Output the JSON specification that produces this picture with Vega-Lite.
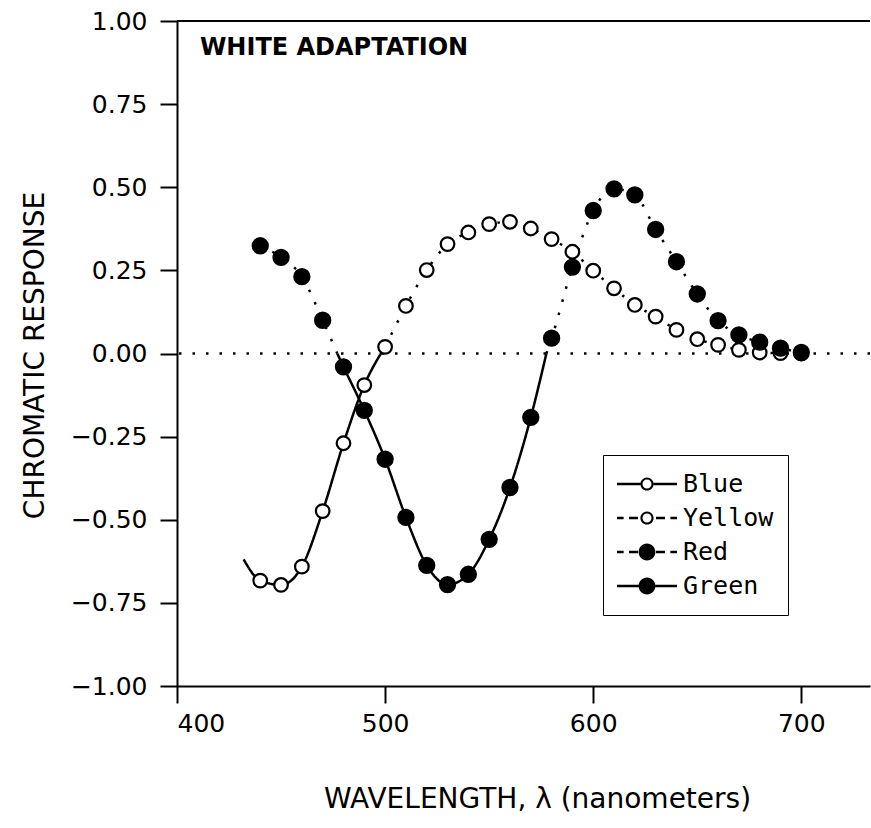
{
  "$schema": "https://vega.github.io/schema/vega-lite/v6.json",
  "width": 693,
  "height": 665,
  "autosize": "none",
  "padding": {"left": 177, "top": 21, "right": 1, "bottom": 142},
  "background": "white",
  "config": {
    "view": {"stroke": null},
    "axis": {
      "grid": false,
      "domainColor": "black",
      "domainWidth": 2,
      "tickColor": "black",
      "tickWidth": 2,
      "tickSize": 17,
      "labelFont": "DejaVu Sans",
      "labelFontSize": 25,
      "labelColor": "black",
      "titleFont": "DejaVu Sans",
      "titleFontSize": 28,
      "titleFontWeight": "normal",
      "titleColor": "black"
    },
    "legend": {
      "title": null,
      "orient": "none",
      "legendX": 426,
      "legendY": 434,
      "strokeColor": "black",
      "fillColor": "white",
      "padding": 14,
      "clipHeight": 30,
      "rowPadding": 4,
      "symbolSize": 3600,
      "symbolFillColor": "black",
      "symbolStrokeWidth": 0,
      "symbolOpacity": 1,
      "labelFont": "DejaVu Sans Mono",
      "labelFontSize": 25,
      "labelColor": "black",
      "labelOffset": 6
    }
  },
  "datasets": {
    "points": [
      {"series": "Blue", "nm": 440, "v": -0.683},
      {"series": "Blue", "nm": 450, "v": -0.696},
      {"series": "Blue", "nm": 460, "v": -0.641},
      {"series": "Blue", "nm": 470, "v": -0.474},
      {"series": "Blue", "nm": 480, "v": -0.27},
      {"series": "Blue", "nm": 490, "v": -0.095},
      {"series": "Yellow", "nm": 500, "v": 0.02},
      {"series": "Yellow", "nm": 510, "v": 0.143},
      {"series": "Yellow", "nm": 520, "v": 0.251},
      {"series": "Yellow", "nm": 530, "v": 0.329},
      {"series": "Yellow", "nm": 540, "v": 0.364},
      {"series": "Yellow", "nm": 550, "v": 0.389},
      {"series": "Yellow", "nm": 560, "v": 0.396},
      {"series": "Yellow", "nm": 570, "v": 0.376},
      {"series": "Yellow", "nm": 580, "v": 0.344},
      {"series": "Yellow", "nm": 590, "v": 0.306},
      {"series": "Yellow", "nm": 600, "v": 0.249},
      {"series": "Yellow", "nm": 610, "v": 0.196},
      {"series": "Yellow", "nm": 620, "v": 0.146},
      {"series": "Yellow", "nm": 630, "v": 0.111},
      {"series": "Yellow", "nm": 640, "v": 0.071},
      {"series": "Yellow", "nm": 650, "v": 0.043},
      {"series": "Yellow", "nm": 660, "v": 0.026},
      {"series": "Yellow", "nm": 670, "v": 0.011},
      {"series": "Yellow", "nm": 680, "v": 0.003},
      {"series": "Yellow", "nm": 690, "v": 0.001},
      {"series": "Yellow", "nm": 700, "v": 0.0},
      {"series": "Red", "nm": 440, "v": 0.324},
      {"series": "Red", "nm": 450, "v": 0.289},
      {"series": "Red", "nm": 460, "v": 0.231},
      {"series": "Red", "nm": 470, "v": 0.1},
      {"series": "Red", "nm": 580, "v": 0.046},
      {"series": "Red", "nm": 590, "v": 0.26},
      {"series": "Red", "nm": 600, "v": 0.43},
      {"series": "Red", "nm": 610, "v": 0.495},
      {"series": "Red", "nm": 620, "v": 0.477},
      {"series": "Red", "nm": 630, "v": 0.373},
      {"series": "Red", "nm": 640, "v": 0.276},
      {"series": "Red", "nm": 650, "v": 0.179},
      {"series": "Red", "nm": 660, "v": 0.099},
      {"series": "Red", "nm": 670, "v": 0.056},
      {"series": "Red", "nm": 680, "v": 0.034},
      {"series": "Red", "nm": 690, "v": 0.016},
      {"series": "Red", "nm": 700, "v": 0.003},
      {"series": "Green", "nm": 480, "v": -0.04},
      {"series": "Green", "nm": 490, "v": -0.171},
      {"series": "Green", "nm": 500, "v": -0.318},
      {"series": "Green", "nm": 510, "v": -0.493},
      {"series": "Green", "nm": 520, "v": -0.637},
      {"series": "Green", "nm": 530, "v": -0.695},
      {"series": "Green", "nm": 540, "v": -0.664},
      {"series": "Green", "nm": 550, "v": -0.559},
      {"series": "Green", "nm": 560, "v": -0.403},
      {"series": "Green", "nm": 570, "v": -0.192}
    ],
    "curves": [
      {"series": "Blue", "seg": "b", "nm": 432, "v": -0.619},
      {"series": "Blue", "seg": "b", "nm": 440, "v": -0.683},
      {"series": "Blue", "seg": "b", "nm": 450, "v": -0.696},
      {"series": "Blue", "seg": "b", "nm": 460, "v": -0.641},
      {"series": "Blue", "seg": "b", "nm": 470, "v": -0.474},
      {"series": "Blue", "seg": "b", "nm": 480, "v": -0.27},
      {"series": "Blue", "seg": "b", "nm": 490, "v": -0.095},
      {"series": "Blue", "seg": "b", "nm": 500, "v": 0.02},
      {"series": "Green", "seg": "g", "nm": 477, "v": 0.0},
      {"series": "Green", "seg": "g", "nm": 480, "v": -0.04},
      {"series": "Green", "seg": "g", "nm": 490, "v": -0.171},
      {"series": "Green", "seg": "g", "nm": 500, "v": -0.318},
      {"series": "Green", "seg": "g", "nm": 510, "v": -0.493},
      {"series": "Green", "seg": "g", "nm": 520, "v": -0.637},
      {"series": "Green", "seg": "g", "nm": 530, "v": -0.695},
      {"series": "Green", "seg": "g", "nm": 540, "v": -0.664},
      {"series": "Green", "seg": "g", "nm": 550, "v": -0.559},
      {"series": "Green", "seg": "g", "nm": 560, "v": -0.403},
      {"series": "Green", "seg": "g", "nm": 570, "v": -0.192},
      {"series": "Green", "seg": "g", "nm": 577.5, "v": 0.0},
      {"series": "Red", "seg": "r1", "nm": 440, "v": 0.324},
      {"series": "Red", "seg": "r1", "nm": 450, "v": 0.289},
      {"series": "Red", "seg": "r1", "nm": 460, "v": 0.231},
      {"series": "Red", "seg": "r1", "nm": 470, "v": 0.1},
      {"series": "Red", "seg": "r1", "nm": 477, "v": 0.0},
      {"series": "Red", "seg": "r2", "nm": 577.5, "v": 0.0},
      {"series": "Red", "seg": "r2", "nm": 580, "v": 0.046},
      {"series": "Red", "seg": "r2", "nm": 590, "v": 0.26},
      {"series": "Red", "seg": "r2", "nm": 600, "v": 0.43},
      {"series": "Red", "seg": "r2", "nm": 610, "v": 0.495},
      {"series": "Red", "seg": "r2", "nm": 620, "v": 0.477},
      {"series": "Red", "seg": "r2", "nm": 630, "v": 0.373},
      {"series": "Red", "seg": "r2", "nm": 640, "v": 0.276},
      {"series": "Red", "seg": "r2", "nm": 650, "v": 0.179},
      {"series": "Red", "seg": "r2", "nm": 660, "v": 0.099},
      {"series": "Red", "seg": "r2", "nm": 670, "v": 0.056},
      {"series": "Red", "seg": "r2", "nm": 680, "v": 0.034},
      {"series": "Red", "seg": "r2", "nm": 690, "v": 0.016},
      {"series": "Red", "seg": "r2", "nm": 700, "v": 0.003},
      {"series": "Yellow", "seg": "y", "nm": 500, "v": 0.02},
      {"series": "Yellow", "seg": "y", "nm": 510, "v": 0.143},
      {"series": "Yellow", "seg": "y", "nm": 520, "v": 0.251},
      {"series": "Yellow", "seg": "y", "nm": 530, "v": 0.329},
      {"series": "Yellow", "seg": "y", "nm": 540, "v": 0.364},
      {"series": "Yellow", "seg": "y", "nm": 550, "v": 0.389},
      {"series": "Yellow", "seg": "y", "nm": 560, "v": 0.396},
      {"series": "Yellow", "seg": "y", "nm": 570, "v": 0.376},
      {"series": "Yellow", "seg": "y", "nm": 580, "v": 0.344},
      {"series": "Yellow", "seg": "y", "nm": 590, "v": 0.306},
      {"series": "Yellow", "seg": "y", "nm": 600, "v": 0.249},
      {"series": "Yellow", "seg": "y", "nm": 610, "v": 0.196},
      {"series": "Yellow", "seg": "y", "nm": 620, "v": 0.146},
      {"series": "Yellow", "seg": "y", "nm": 630, "v": 0.111},
      {"series": "Yellow", "seg": "y", "nm": 640, "v": 0.071},
      {"series": "Yellow", "seg": "y", "nm": 650, "v": 0.043},
      {"series": "Yellow", "seg": "y", "nm": 660, "v": 0.026},
      {"series": "Yellow", "seg": "y", "nm": 670, "v": 0.011},
      {"series": "Yellow", "seg": "y", "nm": 680, "v": 0.003},
      {"series": "Yellow", "seg": "y", "nm": 690, "v": 0.001},
      {"series": "Yellow", "seg": "y", "nm": 700, "v": 0.0}
    ],
    "notes": [
      {"label": "WHITE ADAPTATION", "nm": 411, "v": 0.898}
    ],
    "refs": [
      {"v": 1.0, "kind": "frame"},
      {"v": 0.0, "kind": "zero"}
    ]
  },
  "layer": [
    {
      "data": {"name": "curves"},
      "mark": {"type": "line", "interpolate": "monotone", "stroke": "black", "strokeWidth": 2.5},
      "encoding": {
        "x": {
          "field": "nm",
          "type": "quantitative",
          "scale": {"domain": [400, 733], "nice": false, "zero": false},
          "axis": {
            "values": [400, 500, 600, 700],
            "format": "d",
            "labelPadding": 8,
            "title": "WAVELENGTH, λ  (nanometers)",
            "titleX": 360,
            "titleY": 99,
            "titleAlign": "center",
            "titleBaseline": "top"
          }
        },
        "y": {
          "field": "v",
          "type": "quantitative",
          "scale": {"domain": [-1, 1], "nice": false},
          "axis": {
            "values": [-1, -0.75, -0.5, -0.25, 0, 0.25, 0.5, 0.75, 1],
            "format": ".2f",
            "labelPadding": 13,
            "title": "CHROMATIC RESPONSE",
            "titleX": -142,
            "titleY": 334,
            "titleAngle": 270,
            "titleAlign": "center",
            "titleBaseline": "middle"
          }
        },
        "detail": {"field": "seg", "type": "nominal"},
        "strokeDash": {
          "field": "series",
          "type": "nominal",
          "scale": {"domain": ["Blue", "Yellow", "Red", "Green"], "range": [[1, 0], [2.5, 11], [2.5, 11], [1, 0]]},
          "legend": null
        }
      }
    },
    {
      "data": {"name": "refs"},
      "mark": {"type": "rule", "stroke": "black"},
      "encoding": {
        "y": {"field": "v", "type": "quantitative"},
        "strokeDash": {"field": "kind", "type": "nominal", "scale": {"domain": ["frame", "zero"], "range": [[1, 0], [2.5, 15]]}, "legend": null},
        "strokeWidth": {"field": "kind", "type": "nominal", "scale": {"domain": ["frame", "zero"], "range": [2, 2.5]}, "legend": null}
      }
    },
    {
      "data": {"name": "points"},
      "transform": [{"filter": "datum.series == 'Blue' || datum.series == 'Yellow'"}],
      "mark": {"type": "point", "shape": "circle", "filled": true, "fill": "white", "stroke": "black", "strokeWidth": 2.2, "size": 185, "opacity": 1},
      "encoding": {
        "x": {"field": "nm", "type": "quantitative"},
        "y": {"field": "v", "type": "quantitative"}
      }
    },
    {
      "data": {"name": "points"},
      "transform": [{"filter": "datum.series == 'Red' || datum.series == 'Green'"}],
      "mark": {"type": "point", "shape": "circle", "filled": true, "fill": "black", "stroke": "black", "strokeWidth": 2, "size": 235, "opacity": 1},
      "encoding": {
        "x": {"field": "nm", "type": "quantitative"},
        "y": {"field": "v", "type": "quantitative"}
      }
    },
    {
      "data": {"name": "points"},
      "mark": {"type": "point", "filled": true, "fill": "black", "size": 3600, "opacity": 0},
      "encoding": {
        "x": {"field": "nm", "type": "quantitative"},
        "y": {"field": "v", "type": "quantitative"},
        "shape": {
          "field": "series",
          "type": "nominal",
          "scale": {
            "domain": ["Blue", "Yellow", "Red", "Green"],
            "range": [
              "M-1,-0.04L-0.22,-0.04L-0.22,0.04L-1,0.04ZM0.22,-0.04L1,-0.04L1,0.04L0.22,0.04ZM-0.22,0A0.22,0.22,0,1,1,0.22,0A0.22,0.22,0,1,1,-0.22,0ZM-0.15,0A0.15,0.15,0,1,0,0.15,0A0.15,0.15,0,1,0,-0.15,0Z",
              "M-1,-0.04L-0.78,-0.04L-0.78,0.04L-1,0.04ZM-0.6,-0.04L-0.3,-0.04L-0.3,0.04L-0.6,0.04ZM0.3,-0.04L0.6,-0.04L0.6,0.04L0.3,0.04ZM0.78,-0.04L1,-0.04L1,0.04L0.78,0.04ZM-0.22,0A0.22,0.22,0,1,1,0.22,0A0.22,0.22,0,1,1,-0.22,0ZM-0.15,0A0.15,0.15,0,1,0,0.15,0A0.15,0.15,0,1,0,-0.15,0Z",
              "M-1,-0.04L-0.78,-0.04L-0.78,0.04L-1,0.04ZM-0.6,-0.04L-0.3,-0.04L-0.3,0.04L-0.6,0.04ZM0.3,-0.04L0.6,-0.04L0.6,0.04L0.3,0.04ZM0.78,-0.04L1,-0.04L1,0.04L0.78,0.04ZM-0.28,0A0.28,0.28,0,1,1,0.28,0A0.28,0.28,0,1,1,-0.28,0Z",
              "M-1,-0.04L-0.28,-0.04L-0.28,0.04L-1,0.04ZM0.28,-0.04L1,-0.04L1,0.04L0.28,0.04ZM-0.28,0A0.28,0.28,0,1,1,0.28,0A0.28,0.28,0,1,1,-0.28,0Z"
            ]
          }
        }
      }
    },
    {
      "data": {"name": "notes"},
      "mark": {"type": "text", "font": "DejaVu Sans", "fontSize": 24, "fontWeight": "bold", "align": "left", "baseline": "alphabetic", "color": "black"},
      "encoding": {
        "x": {"field": "nm", "type": "quantitative"},
        "y": {"field": "v", "type": "quantitative"},
        "text": {"field": "label", "type": "nominal"}
      }
    }
  ]
}
